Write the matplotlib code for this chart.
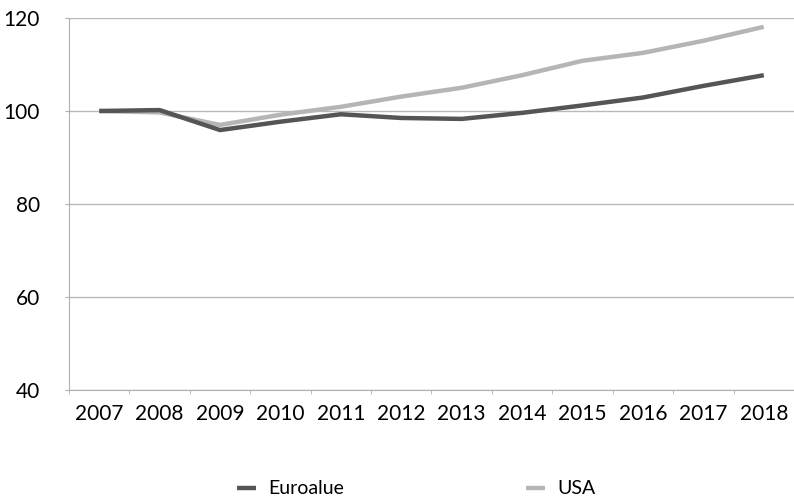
import matplotlib

matplotlib.use("Agg")
import matplotlib.pyplot as plt

years = ["2007", "2008", "2009", "2010", "2011", "2012", "2013", "2014", "2015", "2016", "2017", "2018"]
euroalue = [100.0, 100.2, 95.9, 97.7, 99.3, 98.5, 98.3, 99.6, 101.2, 102.9, 105.4, 107.7]
usa = [100.0, 99.7, 97.0, 99.2, 100.9, 103.1, 105.0, 107.7, 110.8, 112.5, 115.1, 118.1]
y_ticks = [40, 60, 80, 100, 120]

plt.rcParams["font.family"] = ["Lato", "DejaVu Sans"]

fig = plt.figure(figsize=(7.94, 5.01), dpi=100)
ax = fig.add_axes([69 / 794, 111 / 501, 725 / 794, 372 / 501])

x = list(range(len(years)))
ax.plot(x, euroalue, color="#555555", linewidth=3.2, label="Euroalue", solid_capstyle="butt", zorder=3)
ax.plot(x, usa, color="#b5b5b5", linewidth=3.2, label="USA", solid_capstyle="butt", zorder=2)

ax.set_xlim(-0.5, len(years) - 0.5)
ax.set_ylim(40, 120)
ax.set_yticks(y_ticks)
ax.set_yticklabels([str(v) for v in y_ticks], fontsize=15)
ax.set_xticks(x)
ax.set_xticklabels(years, fontsize=15)
ax.set_xticks([i - 0.5 for i in range(len(years) + 1)], minor=True)

ax.tick_params(axis="x", which="major", length=0, pad=10)
ax.tick_params(axis="x", which="minor", length=3, color="#b0b0b0")
ax.tick_params(axis="y", length=3, color="#b0b0b0", pad=18)

ax.grid(axis="y", color="#b8b8b8", linewidth=1)
ax.set_axisbelow(True)
for side in ("top", "right"):
    ax.spines[side].set_visible(False)
ax.spines["left"].set_color("#b0b0b0")
ax.spines["bottom"].set_color("#b0b0b0")

fig.legend(
    loc="center left",
    bbox_to_anchor=(237 / 794, 1 - 489 / 501),
    ncol=2,
    frameon=False,
    fontsize=14,
    borderpad=0,
    borderaxespad=0,
    handlelength=1.0,
    columnspacing=9.35,
    handletextpad=0.6,
)

fig.savefig("out.png", dpi=100)
